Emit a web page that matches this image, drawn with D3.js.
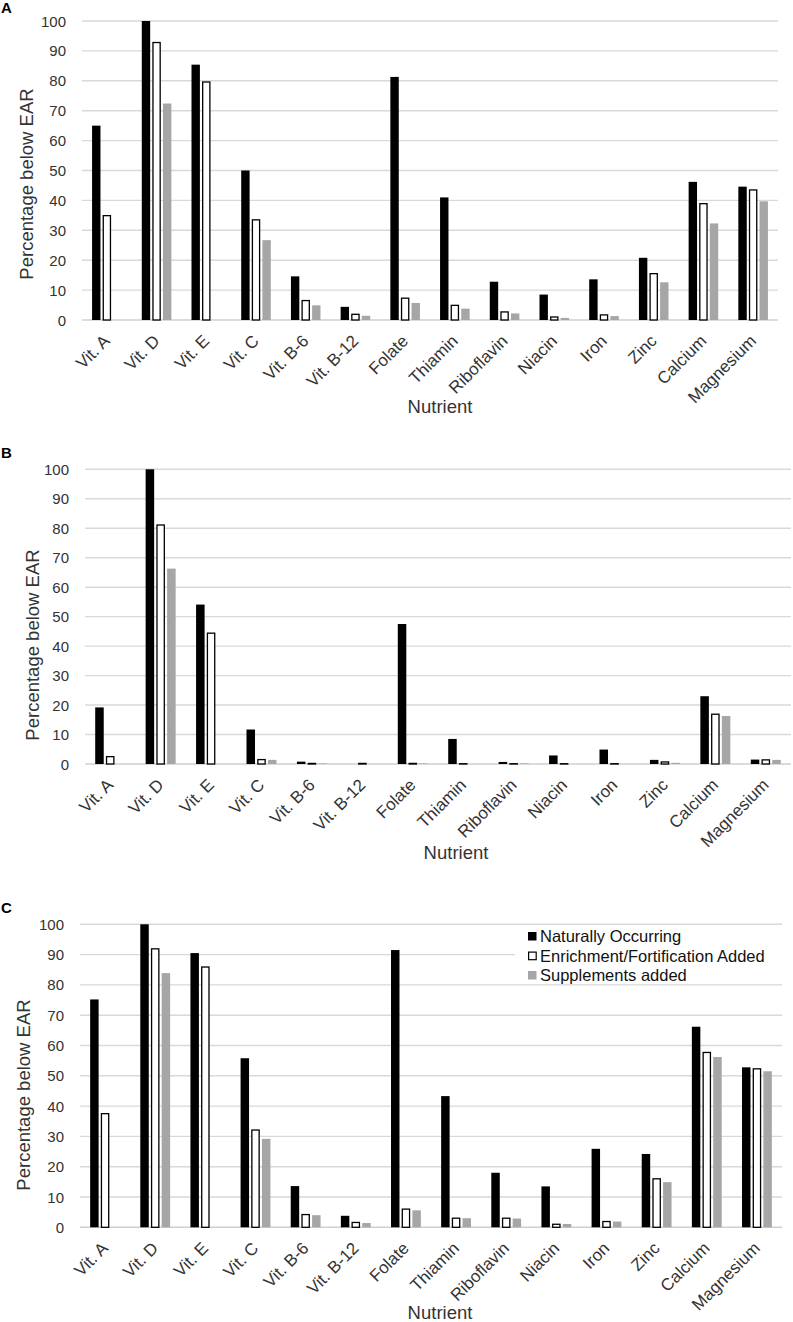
<!DOCTYPE html>
<html>
<head>
<meta charset="utf-8">
<script src="https://cdn.jsdelivr.net/npm/d3@7"></script>
<style>
  html, body { margin: 0; padding: 0; background: #fff; }
  svg { display: block; font-family: "Liberation Sans", Arial, sans-serif; }
</style>
</head>
<body>
<svg id="chart" width="793" height="1322"></svg>
<script>
// ---------- DATA ----------
const categories = ["Vit. A", "Vit. D", "Vit. E", "Vit. C", "Vit. B-6", "Vit. B-12", "Folate",
  "Thiamin", "Riboflavin", "Niacin", "Iron", "Zinc", "Calcium", "Magnesium"];
const seriesNames = ["Naturally Occurring", "Enrichment/Fortification Added", "Supplements added"];
const yTicks = [0, 10, 20, 30, 40, 50, 60, 70, 80, 90, 100];

// Panel A
const naturalA = [65, 100, 85.4, 50, 14.6, 4.4, 81.3, 41, 12.8, 8.5, 13.6, 20.8, 46.2, 44.6];
const enrichA  = [35.1, 93, 79.8, 33.7, 6.7, 2.1, 7.5, 5.1, 2.9, 1.2, 1.9, 15.7, 39.1, 43.7];
const supplA   = [0, 72.4, 0, 26.7, 4.9, 1.4, 5.7, 3.8, 2.2, 0.7, 1.3, 12.6, 32.3, 39.7];

// Panel B
const naturalB = [19.2, 100, 54.1, 11.7, 0.8, 0, 47.5, 8.5, 0.7, 2.9, 4.9, 1.4, 23, 1.5];
const enrichB  = [2.7, 81.3, 44.6, 1.7, 0.4, 0.4, 0.4, 0.3, 0.3, 0.3, 0.3, 0.9, 17.1, 1.6];
const supplB   = [0, 66.3, 0, 1.4, 0.2, 0, 0.2, 0, 0.2, 0, 0, 0.4, 16.3, 1.4];

// Panel C
const naturalC = [75.2, 100, 90.5, 55.8, 13.6, 3.8, 91.5, 43.3, 18, 13.5, 25.9, 24.2, 66.2, 52.8];
const enrichC  = [37.7, 92.1, 86.1, 32.3, 4.4, 1.8, 6.2, 3.2, 3.2, 1.2, 2.1, 16.2, 57.9, 52.5];
const supplC   = [0, 83.9, 0, 29.2, 4.0, 1.4, 5.6, 3.0, 2.9, 1.1, 1.9, 14.9, 56.2, 51.5];

// ---------- STYLE / LAYOUT ----------
const fills = ["#000000", "#ffffff", "#a6a6a6"];
const strokes = ["none", "#000000", "none"];
const textColor = "#333333";
const gridColor = "#d9d9d9";

const panels = [
  { letter: "A", series: [naturalA, enrichA, supplA], x0: 82, x1: 778, yTop: 21, yBot: 320,
    letterY: 13, ylabX: 33, ylabCY: 184, xtitleX: 440, xtitleY: 413, legend: false },
  { letter: "B", series: [naturalB, enrichB, supplB], x0: 85, x1: 791, yTop: 469.3, yBot: 764,
    letterY: 458, ylabX: 39, ylabCY: 645, xtitleX: 456, xtitleY: 859, legend: false },
  { letter: "C", series: [naturalC, enrichC, supplC], x0: 80, x1: 782, yTop: 924.3, yBot: 1227.3,
    letterY: 913, ylabX: 30, ylabCY: 1095, xtitleX: 440, xtitleY: 1319, legend: true }
];

const svg = d3.select("#chart");

panels.forEach(p => {
  const g = svg.append("g");
  const x = d3.scaleBand().domain(categories).range([p.x0, p.x1]).paddingInner(0).paddingOuter(0);
  const bw = x.bandwidth();
  const xs = d3.scaleBand().domain(d3.range(3)).range([bw * 0.2025, bw * 0.7975]).paddingInner(0.207);
  const y = d3.scaleLinear().domain([0, 100]).range([p.yBot, p.yTop]);

  // gridlines
  g.append("g").selectAll("line").data(yTicks).join("line")
    .attr("x1", p.x0).attr("x2", p.x1)
    .attr("y1", d => y(d)).attr("y2", d => y(d))
    .attr("stroke", d => d === 0 ? "#cfcfcf" : gridColor)
    .attr("stroke-width", 1.4);

  // y tick labels
  g.append("g").selectAll("text").data(yTicks).join("text")
    .attr("x", p.x0 - 16).attr("y", d => y(d))
    .attr("text-anchor", "end").attr("dominant-baseline", "central")
    .attr("font-size", 15).attr("fill", textColor)
    .text(d => d);

  // bars
  p.series.forEach((vals, si) => {
    g.append("g").selectAll("rect").data(vals.map((v, i) => ({ c: categories[i], v })))
      .join("rect")
      .filter(d => d.v > 0)
      .attr("x", d => x(d.c) + xs(si) + (si === 1 ? 0.6 : 0))
      .attr("width", xs.bandwidth() - (si === 1 ? 1.2 : 0))
      .attr("y", d => y(d.v) + (si === 1 ? 0.6 : 0))
      .attr("height", d => Math.max(0, y(0) - y(d.v) - (si === 1 ? 0.6 : 0)))
      .attr("fill", fills[si])
      .attr("stroke", strokes[si])
      .attr("stroke-width", si === 1 ? 1.3 : 0);
  });

  // x tick labels (rotated)
  g.append("g").selectAll("text").data(categories).join("text")
    .attr("transform", d => `translate(${x(d) + bw / 2 + 4},${p.yBot + 22}) rotate(-45)`)
    .attr("text-anchor", "end")
    .attr("font-size", 17).attr("fill", textColor)
    .text(d => d);

  // axis titles
  g.append("text")
    .attr("transform", `translate(${p.ylabX},${p.ylabCY}) rotate(-90)`)
    .attr("text-anchor", "middle").attr("font-size", 18.5).attr("fill", textColor)
    .text("Percentage below EAR");
  g.append("text")
    .attr("x", p.xtitleX).attr("y", p.xtitleY)
    .attr("text-anchor", "middle").attr("font-size", 18.5).attr("fill", textColor)
    .text("Nutrient");

  // panel letter
  g.append("text")
    .attr("x", 1).attr("y", p.letterY)
    .attr("font-size", 15).attr("font-weight", "bold").attr("fill", "#000")
    .text(p.letter);

  // legend
  if (p.legend) {
    const lg = g.append("g");
    lg.append("rect").attr("x", 515).attr("y", 928).attr("width", 268).attr("height", 55)
      .attr("fill", "#fff");
    const rows = lg.selectAll("g.item").data(seriesNames).join("g").attr("class", "item")
      .attr("transform", (d, i) => `translate(528,${936 + i * 19.5})`);
    rows.append("rect")
      .attr("x", (d, i) => i === 1 ? 0.6 : 0).attr("y", (d, i) => i === 1 ? -3.4 : -4)
      .attr("width", (d, i) => i === 1 ? 7.6 : 8.5).attr("height", (d, i) => i === 1 ? 7.6 : 8.5)
      .attr("fill", (d, i) => fills[i]).attr("stroke", (d, i) => strokes[i])
      .attr("stroke-width", (d, i) => i === 1 ? 1.2 : 0);
    rows.append("text").attr("x", 12).attr("y", 0).attr("dominant-baseline", "central")
      .attr("font-size", 16.5).attr("fill", "#111").text(d => d);
  }
});
</script>
</body>
</html>
